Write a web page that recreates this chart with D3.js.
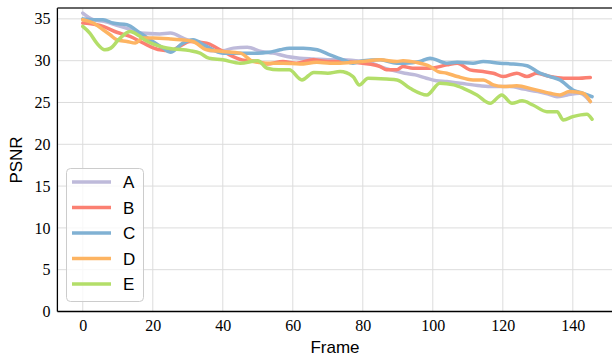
<!DOCTYPE html>
<html><head><meta charset="utf-8">
<script src="https://cdn.jsdelivr.net/npm/d3@7"></script>
<style>body{margin:0;background:#fff}svg{display:block}</style>
</head><body>
<svg id="c" width="612" height="358"></svg>
<script>
const seriesNames = ["A","B","C","D","E"];
const colors = ["#bebada","#fb8072","#80b1d3","#fdb462","#b3de69"];
const xTicks = [0,20,40,60,80,100,120,140];
const yTicks = [0,5,10,15,20,25,30,35];

const aFrames = [0,3,6,10,13,16.4,22,25,29.7,33.5,36.4,40,43,47,51,54.4,58.3,62,66,70,74,78,82,85,88,92,95,98.2,101,104,107.8,113.5,117.3,122,126,130,133,135.5,138.4,142,145];
const aValues = [35.7,34.9,34.7,34.2,33.8,33.3,33.2,33.3,32.5,32.1,31.2,31.2,31.5,31.6,31.1,30.9,30.5,30.3,30.2,30.1,30.1,30.0,29.8,29.3,28.9,28.5,28.3,27.9,27.6,27.5,27.3,27.0,26.9,26.9,26.6,26.3,26.0,25.7,25.9,26.1,25.1];

const bFrames = [0,4,5.8,9.7,13.5,16.4,19.2,22,25,28,30.6,35.4,38.3,41,45.5,50,52.7,57.2,61,65.8,70,73.5,80,85,86.8,89.7,91.5,94.3,99.2,104,107,110.6,114.4,117.3,120.1,124,126.9,129.7,133.5,137.3,141,145];
const bValues = [34.5,34.3,34.1,33.4,32.9,32.3,31.7,31.3,31.2,31.8,32.3,32.1,31.5,30.9,30.1,29.9,29.6,29.9,29.7,30.1,29.9,29.9,29.7,29.3,28.9,28.9,29.3,29.1,29.1,29.5,29.7,28.9,28.7,28.5,28.1,28.5,28.1,28.5,28.1,27.9,27.9,28.0];

const cFrames = [0,3,5.8,8.6,12.6,16.4,20,23,25,28.6,31.5,35,40,45,50,53,56.4,59,63,67,70.6,74.4,77.2,80,85,89.7,92,96.3,99.2,104,107,111.5,114.4,119.2,123,126.9,130.6,133.5,136.3,140,142.9,145.5];
const cValues = [35.0,34.9,34.9,34.5,34.3,33.3,32.3,31.5,31.0,32.1,32.5,31.8,30.9,30.9,30.9,31.0,31.3,31.5,31.5,31.3,30.7,30.1,29.7,30.0,30.1,29.7,29.7,29.9,30.3,29.7,29.8,29.7,29.9,29.7,29.6,29.4,28.5,28.1,27.7,26.5,26.1,25.7];

const dFrames = [0,3,5.8,7.8,9.7,12.6,15,17.2,20,25,28,31.5,35.4,40,45,48.7,52.7,57.2,62,66.9,70.6,73.5,80,85,89.7,91.5,95.3,99.2,101.5,104,107,111.5,114.4,117.3,120.1,124,128.6,133.5,136.3,139,142.9,145];
const dValues = [34.9,34.5,33.7,33.1,32.5,32.3,32.1,32.7,32.7,32.6,32.5,32.3,31.3,31.1,30.9,29.9,29.7,29.7,29.6,29.8,29.7,29.7,29.9,30.1,29.9,30.0,29.8,29.3,28.7,28.5,28.1,27.7,27.7,27.1,26.9,27.0,26.6,26.1,25.9,26.3,26.1,25.1];

const eFrames = [0,2,4,6.3,8,10,13.5,16,18,20,23,26,30.6,33.5,36,40,45,50,52.7,56,59,62.6,66,70,73.5,77.2,79,81.5,86.8,89.8,93.5,98.3,102,106,108.7,112.6,116.4,119.7,122.6,125.5,128.6,132.6,135.5,137.3,140,144,145.5];
const eValues = [34.1,33.3,32.1,31.3,31.5,32.4,33.5,33.0,32.4,32.0,31.6,31.4,31.2,30.9,30.3,30.1,29.7,30.0,29.1,28.9,28.9,27.7,28.6,28.5,28.7,28.1,27.1,27.9,27.8,27.7,26.7,25.9,27.3,27.1,26.7,25.9,24.9,25.9,24.9,25.2,24.7,23.9,23.9,22.9,23.3,23.6,23.0];

const seriesFrames = [aFrames,bFrames,cFrames,dFrames,eFrames];
const seriesValues = [aValues,bValues,cValues,dValues,eValues];

const svg = d3.select("#c");
const x = d3.scaleLinear().domain([-7.25,152.25]).range([57.4,615.7]);
const y = d3.scaleLinear().domain([0,36.3]).range([311.5,8]);

// grid
const g = svg.append("g");
g.selectAll("line.vx").data(xTicks).join("line")
  .attr("x1",d=>x(d)).attr("x2",d=>x(d)).attr("y1",y(36.3)).attr("y2",y(0))
  .attr("stroke","#dcdcdc").attr("stroke-width",1);
g.selectAll("line.hy").data(yTicks).join("line")
  .attr("x1",x(-7.25)).attr("x2",612).attr("y1",d=>y(d)).attr("y2",d=>y(d))
  .attr("stroke","#dcdcdc").attr("stroke-width",1);

// lines
const line = d3.line().x(d=>x(d[0])).y(d=>y(d[1])).curve(d3.curveMonotoneX);
seriesNames.forEach((n,i)=>{
  const pts = seriesFrames[i].map((f,j)=>[f,seriesValues[i][j]]);
  svg.append("path").datum(pts).attr("d",line).attr("fill","none")
    .attr("stroke",colors[i]).attr("stroke-width",3.5).attr("stroke-linejoin","round").attr("stroke-linecap","round");
});

// axes
const xAxis = svg.append("g").attr("transform",`translate(0,${y(0)})`)
  .call(d3.axisBottom(x).tickValues(xTicks).tickSize(0).tickPadding(8));
const yAxis = svg.append("g").attr("transform",`translate(${x(-7.25)},0)`)
  .call(d3.axisLeft(y).tickValues(yTicks).tickSize(0).tickPadding(7));
[xAxis,yAxis].forEach(a=>{
  a.select(".domain").remove();
  a.selectAll("text").attr("font-family","'Liberation Serif', serif").attr("font-size",16).attr("fill","#000");
});
// spines
svg.append("line").attr("x1",x(-7.25)).attr("x2",612).attr("y1",y(0)).attr("y2",y(0)).attr("stroke","#000").attr("stroke-width",1.3);
svg.append("line").attr("x1",x(-7.25)).attr("x2",x(-7.25)).attr("y1",y(36.3)).attr("y2",y(0)).attr("stroke","#000").attr("stroke-width",1.3);
svg.append("line").attr("x1",x(-7.25)).attr("x2",612).attr("y1",y(36.3)).attr("y2",y(36.3)).attr("stroke","#333").attr("stroke-width",1.3);

// axis titles
svg.append("text").attr("x",335).attr("y",353).attr("text-anchor","middle")
  .attr("font-family","'Liberation Sans', Arial, sans-serif").attr("font-size",17).text("Frame");
svg.append("text").attr("transform","translate(22,160) rotate(-90)").attr("text-anchor","middle")
  .attr("font-family","'Liberation Sans', Arial, sans-serif").attr("font-size",17).text("PSNR");

// legend
const lg = svg.append("g");
lg.append("rect").attr("x",66.5).attr("y",168.5).attr("width",77).attr("height",133).attr("rx",4)
  .attr("fill","#fff").attr("fill-opacity",0.8).attr("stroke","#cccccc").attr("stroke-width",1);
seriesNames.forEach((n,i)=>{
  const yy = 182 + i*25.5;
  lg.append("line").attr("x1",72).attr("x2",111).attr("y1",yy).attr("y2",yy)
    .attr("stroke",colors[i]).attr("stroke-width",3.5);
  lg.append("text").attr("x",123).attr("y",yy+6).attr("font-family","'Liberation Sans', Arial, sans-serif")
    .attr("font-size",17).text(n);
});
</script>
</body></html>
